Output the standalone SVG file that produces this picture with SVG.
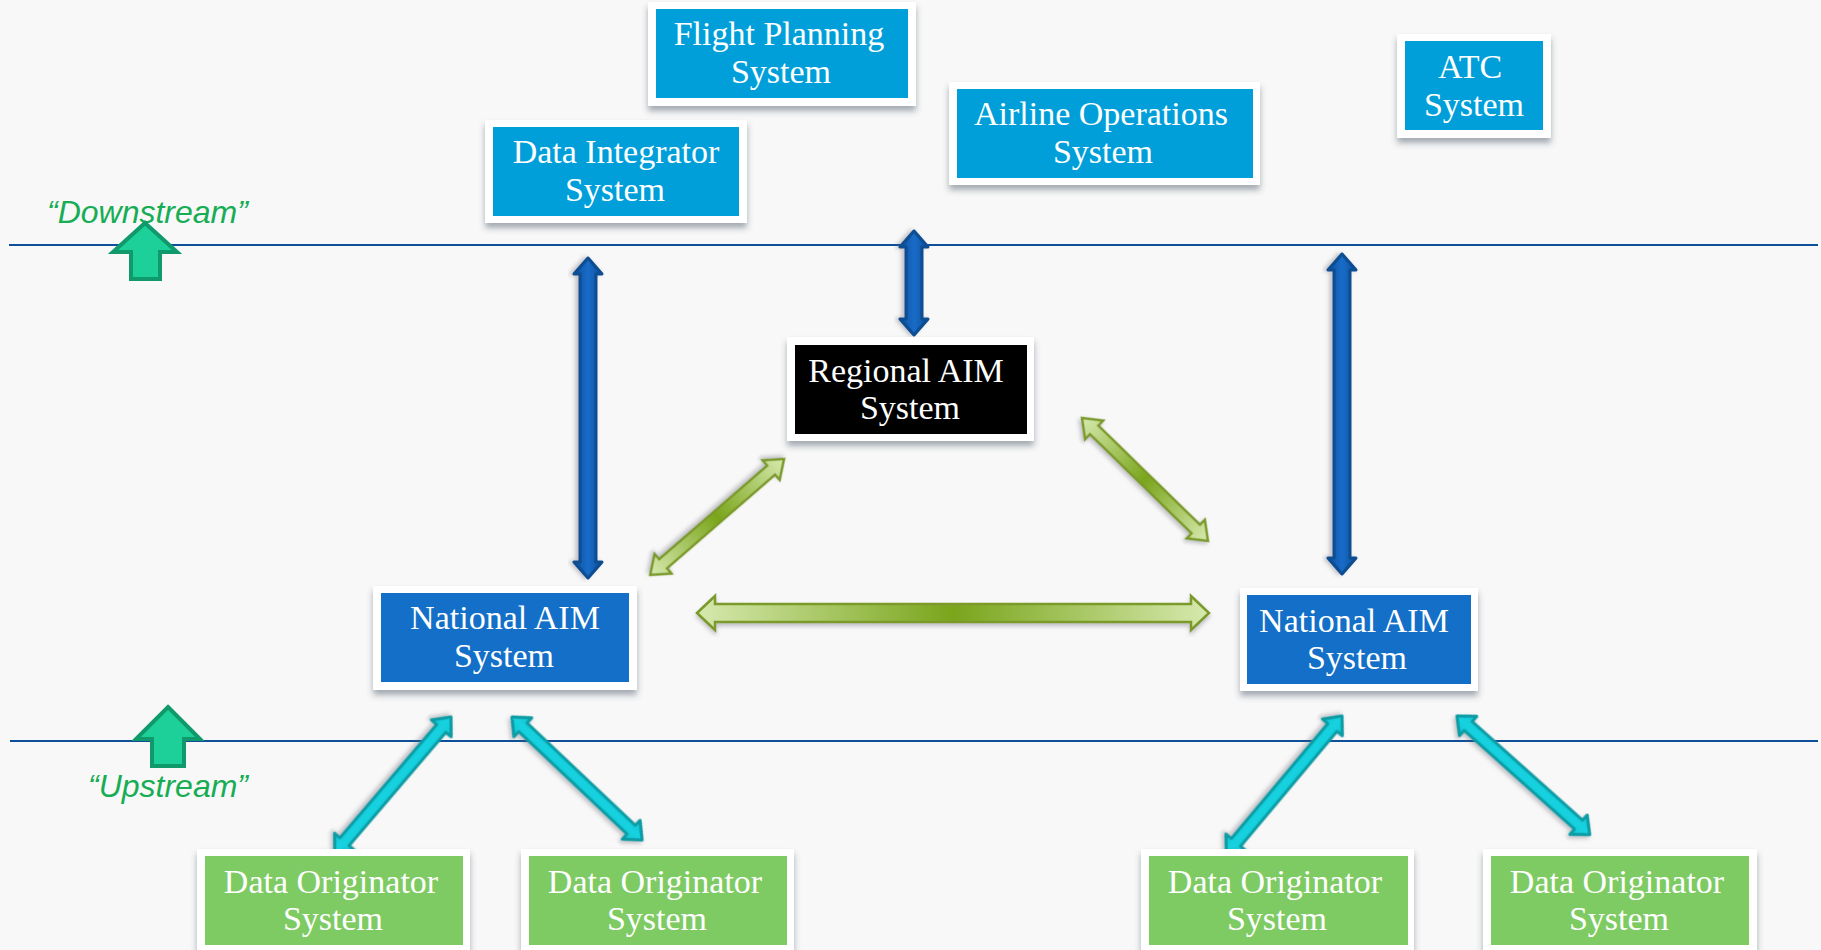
<svg xmlns="http://www.w3.org/2000/svg" width="1821" height="950" viewBox="0 0 1821 950">
<defs>
<filter id="sh" x="-10%" y="-10%" width="120%" height="135%"><feDropShadow dx="0" dy="5" stdDeviation="3" flood-color="#3a4a5a" flood-opacity="0.45"/></filter>
<filter id="ash" x="-20%" y="-20%" width="140%" height="140%"><feDropShadow dx="0" dy="3" stdDeviation="2" flood-color="#556" flood-opacity="0.35"/></filter>
<linearGradient id="gblue" x1="0" y1="0" x2="0" y2="1"><stop offset="0" stop-color="#0b4f9c"/><stop offset="0.5" stop-color="#1a6cc8"/><stop offset="1" stop-color="#0b4f9c"/></linearGradient>
<linearGradient id="ggreen" x1="0" y1="0" x2="1" y2="0"><stop offset="0" stop-color="#d6e9ae"/><stop offset="0.5" stop-color="#7aa51c"/><stop offset="1" stop-color="#d6e9ae"/></linearGradient>
<linearGradient id="gcyan" x1="0" y1="0" x2="0" y2="1"><stop offset="0" stop-color="#10c4d2"/><stop offset="0.5" stop-color="#19d2e0"/><stop offset="1" stop-color="#10c4d2"/></linearGradient>
<style>
.frame{fill:#ffffff;filter:url(#sh)}
.sky{fill:#009fda}
.nat{fill:#136fc7}
.reg{fill:#000000}
.org{fill:#7ecb63}
.t{font-family:"Liberation Serif","Times New Roman",serif;font-size:34px;fill:#ffffff;text-anchor:middle}
.lbl{font-family:"Liberation Sans",Arial,sans-serif;font-size:32px;font-style:italic;fill:#16ad55}
.sep{stroke:#0d4f98;stroke-width:2;fill:none}
.ab{fill:url(#gblue);stroke:#0a4d92;stroke-width:3;stroke-linejoin:round;filter:url(#ash)}
.ag{fill:url(#ggreen);stroke:#7b9a2c;stroke-width:2.5;stroke-linejoin:miter;filter:url(#ash)}
.ac{fill:url(#gcyan);stroke:#0a9ca4;stroke-width:3;stroke-linejoin:round;filter:url(#ash)}
.up{fill:#1dcf98;stroke:#109a6c;stroke-width:4;stroke-linejoin:miter}
</style>
</defs>
<rect x="0" y="0" width="1821" height="950" fill="#f8f8f8"/>

<g id="separators">
<line class="sep" x1="9" y1="245" x2="1818" y2="245"/>
<line class="sep" x1="10" y1="741" x2="1818" y2="741"/>
</g>

<g id="downstream-label">
<text class="lbl" x="47" y="223">“Downstream”</text>
<polygon class="up" points="145,223 177,252 160,252 160,279 131,279 131,252 113,252"/>
</g>
<g id="upstream-label">
<polygon class="up" points="168,707 200,739 184,739 184,766 152,766 152,739 136,739"/>
<text class="lbl" x="88" y="797">“Upstream”</text>
</g>

<g id="connectors">
<polygon class="ab" transform="translate(588,258) rotate(90)" points="0,0 16,-14 16,-8 304,-8 304,-14 320,0 304,14 304,8 16,8 16,14"/>
<polygon class="ab" transform="translate(914,231) rotate(90)" points="0,0 16,-14 16,-8 88,-8 88,-14 104,0 88,14 88,8 16,8 16,14"/>
<polygon class="ab" transform="translate(1342,254) rotate(90)" points="0,0 16,-14 16,-8 304,-8 304,-14 320,0 304,14 304,8 16,8 16,14"/>
<polygon class="ag" transform="translate(697,613)" points="0,0 18,-17 18,-9 494,-9 494,-17 512,0 494,17 494,9 18,9 18,17"/>
<polygon class="ag" transform="translate(784,459) rotate(139.1)" points="0,0 17,-13 17,-6 160,-6 160,-13 177,0 160,13 160,6 17,6 17,13"/>
<polygon class="ag" transform="translate(1082,418) rotate(44.3)" points="0,0 17,-13 17,-6 159,-6 159,-13 176,0 159,13 159,6 17,6 17,13"/>
<polygon class="ac" transform="translate(451,717) rotate(130.5)" points="0,0 15,-13 15,-6 164,-6 164,-13 179,0 164,13 164,6 15,6 15,13"/>
<polygon class="ac" transform="translate(512,717) rotate(43.4)" points="0,0 15,-13 15,-6 164,-6 164,-13 179,0 164,13 164,6 15,6 15,13"/>
<polygon class="ac" transform="translate(1342,716) rotate(130)" points="0,0 15,-13 15,-6 165,-6 165,-13 180,0 165,13 165,6 15,6 15,13"/>
<polygon class="ac" transform="translate(1457,716) rotate(41.8)" points="0,0 15,-13 15,-6 163,-6 163,-13 178,0 163,13 163,6 15,6 15,13"/>
</g>

<g id="flight-planning">
<rect class="frame" x="648" y="2" width="268" height="104"/>
<rect class="sky" x="656" y="9" width="252" height="89"/>
<text class="t" x="779" y="45">Flight Planning</text>
<text class="t" x="781" y="83">System</text>
</g>
<g id="data-integrator">
<rect class="frame" x="485" y="120" width="262" height="103"/>
<rect class="sky" x="493" y="127" width="246" height="89"/>
<text class="t" x="616" y="163">Data Integrator</text>
<text class="t" x="615" y="201">System</text>
</g>
<g id="airline-operations">
<rect class="frame" x="949" y="82" width="311" height="103"/>
<rect class="sky" x="957" y="89" width="296" height="89"/>
<text class="t" x="1101" y="125">Airline Operations</text>
<text class="t" x="1103" y="163">System</text>
</g>
<g id="atc">
<rect class="frame" x="1397" y="34" width="154" height="104"/>
<rect class="sky" x="1405" y="41" width="138" height="89"/>
<text class="t" x="1470" y="78">ATC</text>
<text class="t" x="1474" y="116">System</text>
</g>
<g id="regional-aim">
<rect class="frame" x="787" y="337" width="247" height="104"/>
<rect class="reg" x="795" y="345" width="232" height="89"/>
<text class="t" x="906" y="382">Regional AIM</text>
<text class="t" x="910" y="419">System</text>
</g>
<g id="national-aim-left">
<rect class="frame" x="373" y="586" width="264" height="104"/>
<rect class="nat" x="381" y="593" width="248" height="89"/>
<text class="t" x="505" y="629">National AIM</text>
<text class="t" x="504" y="667">System</text>
</g>
<g id="national-aim-right">
<rect class="frame" x="1240" y="588" width="238" height="103"/>
<rect class="nat" x="1247" y="595" width="224" height="89"/>
<text class="t" x="1354" y="632">National AIM</text>
<text class="t" x="1357" y="669">System</text>
</g>
<g id="data-originator-1">
<rect class="frame" x="197" y="849" width="273" height="110"/>
<rect class="org" x="205" y="856" width="258" height="89"/>
<text class="t" x="331" y="893">Data Originator</text>
<text class="t" x="333" y="930">System</text>
</g>
<g id="data-originator-2">
<rect class="frame" x="521" y="849" width="273" height="110"/>
<rect class="org" x="529" y="856" width="258" height="89"/>
<text class="t" x="655" y="893">Data Originator</text>
<text class="t" x="657" y="930">System</text>
</g>
<g id="data-originator-3">
<rect class="frame" x="1141" y="849" width="273" height="110"/>
<rect class="org" x="1149" y="856" width="259" height="89"/>
<text class="t" x="1275" y="893">Data Originator</text>
<text class="t" x="1277" y="930">System</text>
</g>
<g id="data-originator-4">
<rect class="frame" x="1483" y="849" width="274" height="110"/>
<rect class="org" x="1491" y="856" width="258" height="89"/>
<text class="t" x="1617" y="893">Data Originator</text>
<text class="t" x="1619" y="930">System</text>
</g>
</svg>
